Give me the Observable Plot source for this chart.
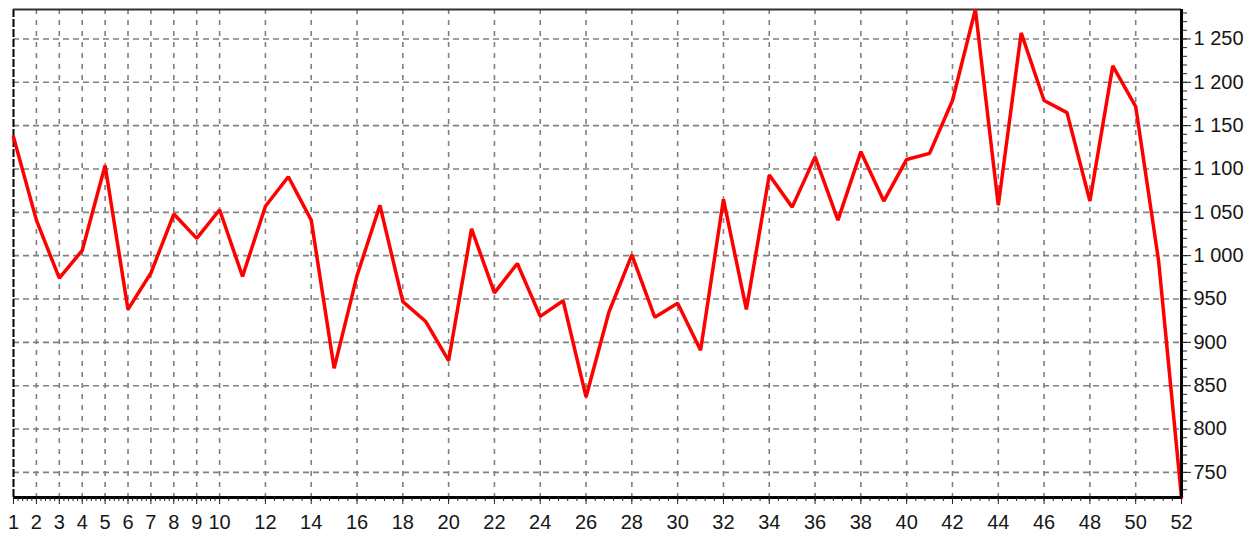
<!DOCTYPE html>
<html>
<head>
<meta charset="utf-8">
<script src="https://cdn.jsdelivr.net/npm/d3@7"></script>
<script src="https://cdn.jsdelivr.net/npm/@observablehq/plot@0.6"></script>
<style>
  html, body { margin: 0; padding: 0; background: #fff; }
  #chart svg { display: block; }
</style>
</head>
<body>
<div id="chart"></div>
<script>
// ---- data ----
const weeks = [1,2,3,4,5,6,7,8,9,10,11,12,13,14,15,16,17,18,19,20,21,22,23,24,25,26,
               27,28,29,30,31,32,33,34,35,36,37,38,39,40,41,42,43,44,45,46,47,48,49,50,51,52];
const values = [1137,1041,974,1006,1104,938,980,1048,1020,1053,
                976,1057,1091,1041,870,977,1058,947,924,879,
                1031,957,991,930,948,837,935,1001,929,945,
                891,1065,938,1093,1056,1114,1041,1120,1063,1111,
                1118,1179,1284,1058,1257,1179,1165,1063,1219,1172,
                994,721];
const xTickLabels = [1,2,3,4,5,6,7,8,9,10,12,14,16,18,20,22,24,26,28,30,32,34,36,38,40,42,44,46,48,50,52];
const xGridValues = [2,3,4,5,6,7,8,9,10,12,14,16,18,20,22,24,26,28,30,32,34,36,38,40,42,44,46,48,50];
const yTickValues = [750,800,850,900,950,1000,1050,1100,1150,1200,1250];

const data = weeks.map((w, i) => ({week: w, value: values[i]}));
const yMin = d3.min(values), yMax = d3.max(values);

const xMinor = d3.range(1, 10.001, 0.2).concat(d3.range(10.4, 52.001, 0.4));
const yMinor = d3.range(730, yMax, 10);

const fmt = d3.formatLocale({thousands: " ", grouping: [3], decimal: ".", currency: ["", ""]}).format(",d");

const chart = Plot.plot({
  width: 1259,
  height: 537,
  marginLeft: 13,
  marginRight: 78,
  marginTop: 9,
  marginBottom: 40,
  style: {fontFamily: "'Liberation Sans', Arial, sans-serif", fontSize: "20px", color: "#161616", background: "#fff"},
  x: {domain: [1, 52], label: null},
  y: {domain: [yMin, yMax], label: null},
  marks: [
    Plot.ruleY(yTickValues, {stroke: "#808080", strokeWidth: 1.6, strokeDasharray: "6,4"}),
    Plot.ruleX(xGridValues, {stroke: "#808080", strokeWidth: 1.6, strokeDasharray: "5,6"}),
    Plot.ruleX([1], {stroke: "#000", strokeWidth: 2, strokeDasharray: "8,2"}),
    Plot.ruleY([yMax], {stroke: "#333", strokeWidth: 2}),
    Plot.line(data, {x: "week", y: "value", stroke: "#ff0000", strokeWidth: 3.5, strokeLinejoin: "miter"}),
    Plot.ruleX([52], {stroke: "#000", strokeWidth: 3}),
    Plot.ruleY([yMin], {stroke: "#000", strokeWidth: 3}),
    Plot.axisY(yMinor, {anchor: "right", tickSize: 5, text: null, stroke: "#222", label: null}),
    Plot.axisY(yTickValues, {anchor: "right", tickSize: 9, tickPadding: 3, tickFormat: fmt, stroke: "#222", label: null}),
    Plot.axisX(xMinor, {anchor: "bottom", tickSize: 4, text: null, stroke: "#222", label: null}),
    Plot.axisX(xTickLabels, {anchor: "bottom", tickSize: 7, tickPadding: 10, tickFormat: d => String(d), stroke: "#222", label: null})
  ]
});
document.getElementById("chart").appendChild(chart);
</script>
</body>
</html>
